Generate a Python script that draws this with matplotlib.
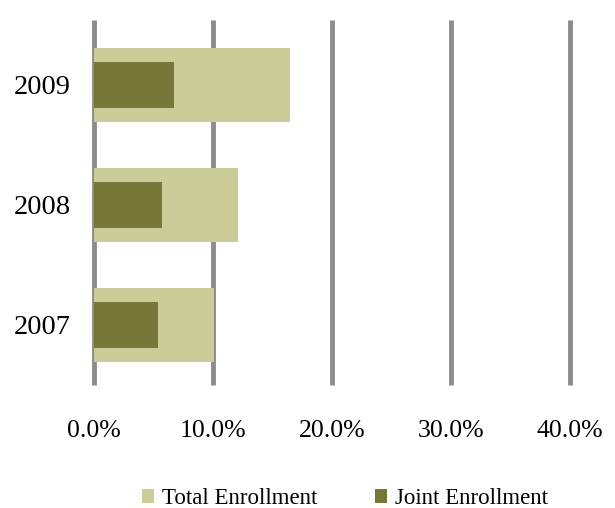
import numpy as np
import matplotlib.pyplot as plt
from matplotlib.ticker import PercentFormatter

years = ['2007', '2008', '2009']
total_enrollment = [0.101, 0.121, 0.165]
joint_enrollment = [0.054, 0.057, 0.067]
x_ticks = [0, 0.1, 0.2, 0.3, 0.4]

plt.rcParams['font.family'] = ['Liberation Serif', 'DejaVu Serif']

fig = plt.figure(figsize=(6.15, 5.08), dpi=100)
ax = fig.add_axes([94 / 615, 1 - 385 / 508, 476 / 615, 360 / 508])

y = np.arange(len(years))
ax.vlines(x_ticks, -0.5, 2.54, color='#8C8C8C', linewidth=3.5, zorder=1, clip_on=False)
ax.barh(y, total_enrollment, height=0.61, color='#CCCC99', label='Total Enrollment', zorder=2)
ax.barh(y, joint_enrollment, height=0.39, color='#77773A', label='Joint Enrollment', zorder=3)

ax.set_xlim(0, 0.4)
ax.set_ylim(-0.5, 2.5)
ax.set_xticks(x_ticks)
ax.xaxis.set_major_formatter(PercentFormatter(1.0, decimals=1))
ax.set_yticks(y)
ax.set_yticklabels(years)
for s in ax.spines.values():
    s.set_visible(False)
ax.tick_params(length=0)
ax.tick_params(axis='x', pad=25, labelsize=18.5)
ax.tick_params(axis='y', pad=17, labelsize=20.5)

fig.legend(loc='lower center', bbox_to_anchor=(0.561, -0.042), ncol=2, frameon=False,
           fontsize=16.5, handlelength=0.55, handleheight=0.55, columnspacing=2.5,
           handletextpad=0.35)

fig.savefig('out.png', dpi=100)
